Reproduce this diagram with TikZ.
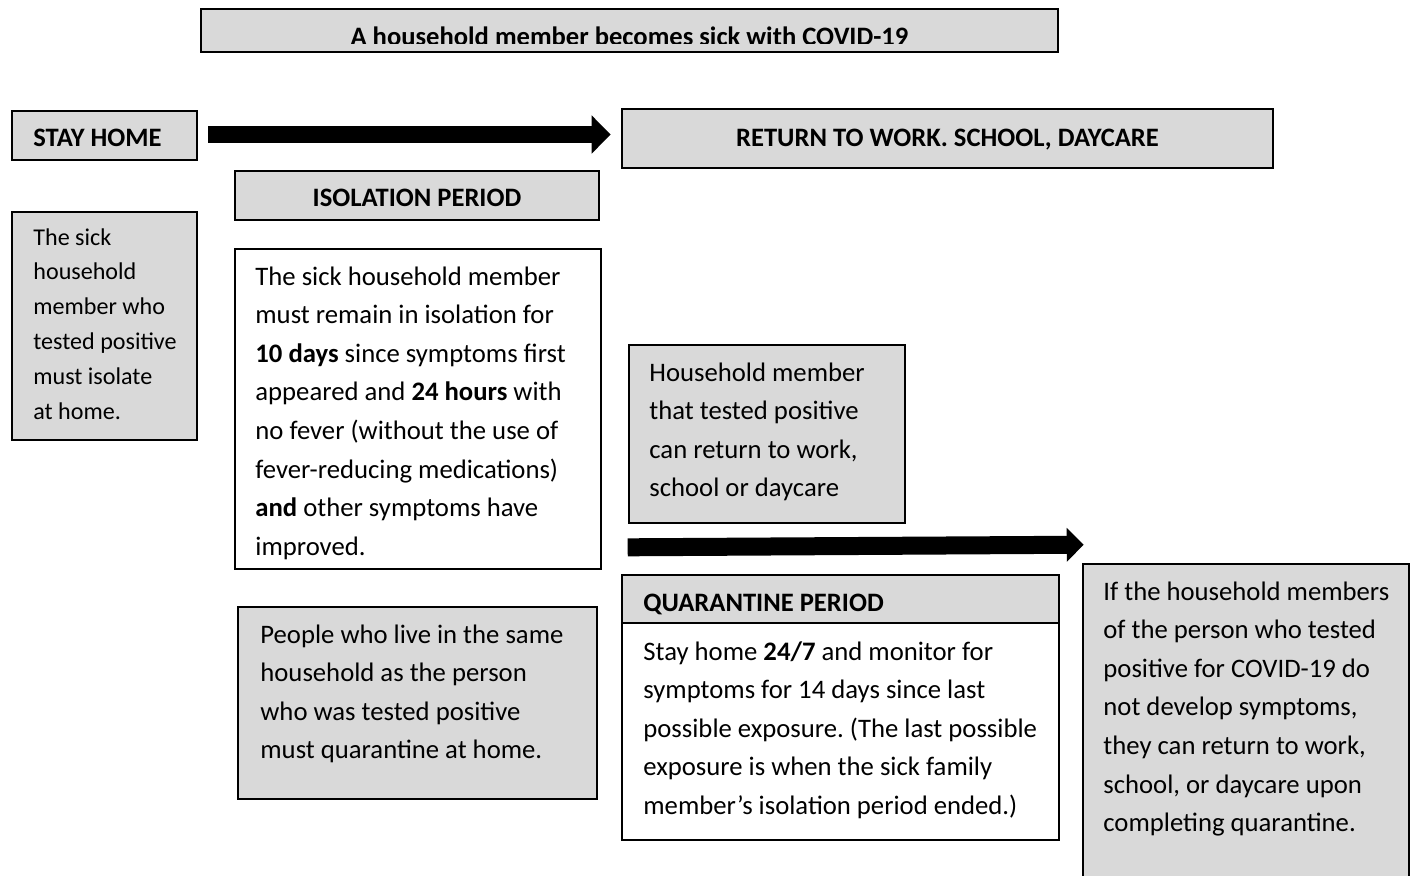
\documentclass[tikz,border=0pt]{standalone}
\usepackage{fontspec}
\setmainfont{Carlito}
\usetikzlibrary{positioning,fit,calc,arrows.meta}
\definecolor{boxgray}{HTML}{D9D9D9}
\frenchspacing

\begin{document}
\begin{tikzpicture}[x=0.5pt,y=-0.5pt,
    box/.style={draw, line width=1.3pt, inner sep=0pt, fill=white},
    graybox/.style={box, fill=boxgray},
    txt/.style={inner sep=0pt, align=flush left, text width=210pt, anchor=base west, font=\fontsize{13.35}{19.3}\selectfont},
    small/.style={txt, font=\fontsize{12.05}{17.4}\selectfont},
    head/.style={inner sep=0pt, font=\fontsize{13.3}{16}\selectfont\bfseries},
    fatarrow/.style={line width=8.5pt, -{Triangle[length=9.5pt,width=18.5pt]}}]
    \useasboundingbox (0,0) rectangle (1418,875);
    % title
    \node[graybox, fit={(201,9) (1058,52)}] (title) {};
    \begin{scope}
        \clip (201,9) rectangle (1058,43.5);
        \node[head, anchor=base] (titletxt) at (629.5,45) {A household member becomes sick with COVID-19};
    \end{scope}
    % isolation side
    \node[graybox, fit={(12,111) (197,160)}] (stay) {};
    \node[head, anchor=base west] (staytxt) at (33,146) {STAY HOME};
    \node[graybox, fit={(235,171) (599,220)}] (iso) {};
    \node[head, anchor=base] (isotxt) at (417,206) {ISOLATION PERIOD};
    \node[graybox, fit={(12,212) (197,440)}] (sick) {};
    \node[small] (sicktxt) at (33,245) {The sick\\household\\member who\\tested positive\\must isolate\\at home.};
    \node[box, fit={(235,249) (601,569)}] (rule) {};
    \node[txt] (ruletxt) at (255,285) {The sick household member\\must remain in isolation for\\\textbf{10 days} since symptoms first\\appeared and \textbf{24 hours} with\\no fever (without the use of\\fever-reducing medications)\\\textbf{and} other symptoms have\\improved.};
    \node[graybox, fit={(238,607) (597,799)}] (people) {};
    \node[txt] (peopletxt) at (260,643) {People who live in the same\\household as the person\\who was tested positive\\must quarantine at home.};
    % return side
    \node[graybox, fit={(622,109) (1273,168)}] (ret) {};
    \node[head, anchor=base] (rettxt) at (947.5,146) {RETURN TO WORK. SCHOOL, DAYCARE};
    \node[graybox, fit={(629,345) (905,523)}] (house) {};
    \node[txt] (housetxt) at (649,381) {Household member\\that tested positive\\can return to work,\\school or daycare};
    % quarantine
    \node[box, fit={(622,623) (1059,840)}] (quar) {};
    \node[graybox, fit={(622,575) (1059,623)}] (quarhead) {};
    \node[head, anchor=base west] (quarheadtxt) at (643,611) {QUARANTINE PERIOD};
    \node[txt] (quartxt) at (643,660) {Stay home \textbf{24/7} and monitor for\\symptoms for 14 days since last\\possible exposure. (The last possible\\exposure is when the sick family\\member’s isolation period ended.)};
    \node[graybox, fit={(1083,564) (1409,885)}] (ifbox) {};
    \node[txt] (iftxt) at (1103,600) {If the household members\\of the person who tested\\positive for COVID-19 do\\not develop symptoms,\\they can return to work,\\school, or daycare upon\\completing quarantine.};
    % arrows
    \draw[fatarrow] ($(stay.east)+(10,-1)$) -- ($(ret.west)+(-10,-4)$);
    \draw[fatarrow, line width=9pt, -{Triangle[length=8.5pt,width=16.5pt]}] ($(house.south west)+(0,23)$) -- ($(ifbox.north west)+(2,-18)$);
\end{tikzpicture}
\end{document}
